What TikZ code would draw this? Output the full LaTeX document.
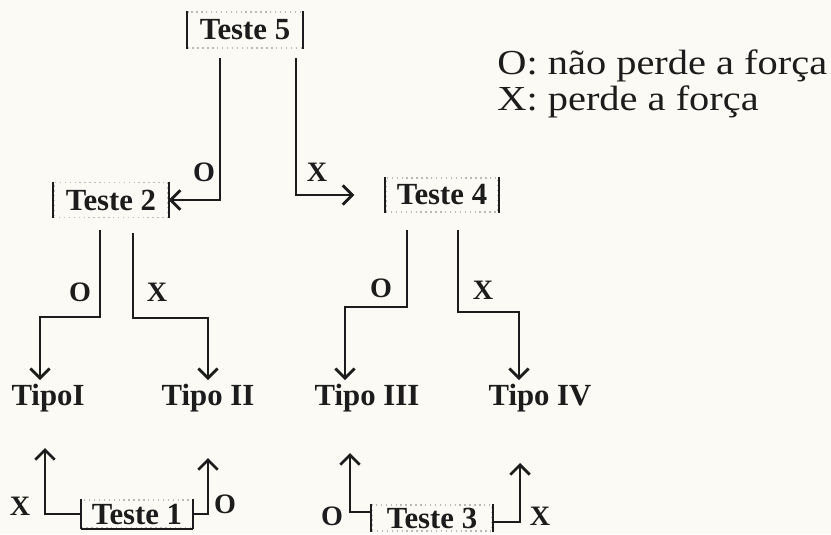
\documentclass[tikz,border=0pt]{standalone}
\usepackage{fontspec}
\setmainfont{Liberation Serif}
\newfontfamily\legendfont[FakeStretch=1.15]{Liberation Serif}
\usetikzlibrary{arrows.meta}

\definecolor{paper}{RGB}{251,250,244}
\definecolor{ink}{RGB}{28,28,28}

\begin{document}
\begin{tikzpicture}[x=0.02cm,y=-0.02cm,
  teste/.style={draw=gray!55,dotted,thick,inner sep=0pt,
                font=\fontsize{17.5}{20}\selectfont\bfseries,text=ink},
  tipo/.style={inner sep=2pt,font=\fontsize{17.5}{20}\selectfont\bfseries,text=ink},
  lbl/.style={inner sep=0pt,font=\fontsize{16}{18}\selectfont\bfseries,text=ink},
  legend/.style={inner sep=0pt,anchor=west,font=\legendfont\fontsize{20}{22}\selectfont,text=ink},
  bar/.style={draw=ink,line width=1.3pt},
  link/.style={draw=ink,line width=1.6pt,
               -{Straight Barb[length=5.5pt,width=11pt]}},
]
  \fill[paper] (0,0) rectangle (831,534);
  \useasboundingbox (0,0) rectangle (831,534);

  % tests
  \node[teste,minimum width=2.3cm,minimum height=0.72cm]  (t5) at (245,30)  {Teste 5};
  \node[teste,minimum width=2.28cm,minimum height=0.7cm]  (t2) at (111,200) {Teste 2};
  \node[teste,minimum width=2.24cm,minimum height=0.68cm] (t4) at (442,195) {Teste 4};
  \node[teste,minimum width=2.22cm,minimum height=0.56cm] (t1) at (137,514) {Teste 1};
  \node[teste,minimum width=2.4cm,minimum height=0.52cm]  (t3) at (432,518) {Teste 3};

  % solid sides of the boxes
  \foreach \t in {t5,t2,t4,t1,t3}
    \draw[bar] (\t.north west) -- (\t.south west)
               (\t.north east) -- (\t.south east);
  \draw[bar] (t1.south west) -- (t1.south east);

  % types
  \node[tipo] (tI)   at (48,398)  {TipoI};
  \node[tipo] (tII)  at (208,398) {Tipo II};
  \node[tipo] (tIII) at (367,398) {Tipo III};
  \node[tipo] (tIV)  at (540,398) {Tipo IV};

  % free ends
  \coordinate (s5o) at (220,58);
  \coordinate (s5x) at (296,58);
  \coordinate (s2o) at (100,230);
  \coordinate (s2x) at (133,233);
  \coordinate (s4o) at (407,230);
  \coordinate (s4x) at (458,230);
  \coordinate (e1x) at (45,448);
  \coordinate (e1o) at (208,458);
  \coordinate (e3o) at (350,453);
  \coordinate (e3x) at (520,463);

  % test 5
  \draw[link] (s5o) |- (t2.east);
  \draw[link] (s5x) |- ([xshift=-0.62cm]t4.west);
  \node[lbl] (l5o) at (204,172) {O};
  \node[lbl] (l5x) at (317,172) {X};

  % test 2
  \draw[link] (s2o) -- (100,317) -| (40,317 |- tI.north);
  \draw[link] (s2x) -- (133,318) -| (tII.north);
  \node[lbl] (l2o) at (80,292)  {O};
  \node[lbl] (l2x) at (157,292) {X};

  % test 4
  \draw[link] (s4o) -- (407,307) -| (345,307 |- tIII.north);
  \draw[link] (s4x) -- (458,312) -| (519,312 |- tIV.north);
  \node[lbl] (l4o) at (381,288) {O};
  \node[lbl] (l4x) at (483,290) {X};

  % test 1
  \draw[link] (t1.west) -| (e1x);
  \draw[link] (t1.east) -| (e1o);
  \node[lbl] (l1x) at (20,506)  {X};
  \node[lbl] (l1o) at (225,504) {O};

  % test 3
  \draw[link] (t3.west |- 0,512) -| (e3o);
  \draw[link] (t3.east |- 0,522) -| (e3x);
  \node[lbl] (l3o) at (332,516) {O};
  \node[lbl] (l3x) at (540,516) {X};

  % legend
  \node[legend] (lgo) at (497,66)  {O: não perde a força};
  \node[legend] (lgx) at (497,102) {X: perde a força};
\end{tikzpicture}
\end{document}
